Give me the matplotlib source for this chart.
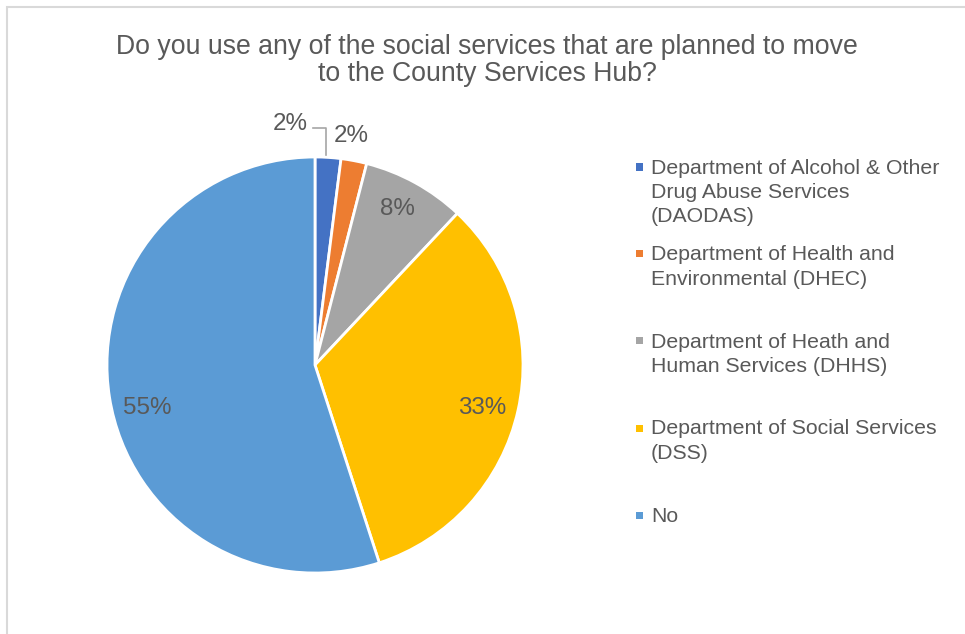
import matplotlib
matplotlib.use("Agg")
import matplotlib.pyplot as plt
from matplotlib.patches import Rectangle

plt.rcParams['font.family'] = ['Liberation Sans', 'DejaVu Sans']

title = "Do you use any of the social services that are planned to move\nto the County Services Hub?"
categories = [
    "Department of Alcohol & Other\nDrug Abuse Services\n(DAODAS)",
    "Department of Health and\nEnvironmental (DHEC)",
    "Department of Heath and\nHuman Services (DHHS)",
    "Department of Social Services\n(DSS)",
    "No",
]
values = [2, 2, 8, 33, 55]
colors = ["#4472C4", "#ED7D31", "#A5A5A5", "#FFC000", "#5B9BD5"]
text_color = "#595959"

W, H = 965, 634
fig = plt.figure(figsize=(W / 100, H / 100), dpi=100)
fig.patch.set_facecolor("white")

# chart frame
fig.patches.append(Rectangle((6.5 / W, -0.1), 1.2, 1 - 6.5 / H + 0.1,
                             transform=fig.transFigure, fill=False,
                             edgecolor="#D9D9D9", linewidth=1.5))

fig.text(487 / W, 1 - 60.5 / H, title, ha="center", va="center",
         fontsize=19.2, color=text_color, linespacing=1.08)

# pie axes
cx, cy, r = 315, 365, 208
ax = fig.add_axes([(cx - r) / W, 1 - (cy + r) / H, 2 * r / W, 2 * r / H])
wedges, _ = ax.pie(values, colors=colors, startangle=90, counterclock=False,
                   radius=1, wedgeprops=dict(edgecolor="white", linewidth=2))
ax.set_xlim(-1, 1)
ax.set_ylim(-1, 1)
ax.set_aspect("equal")
ax.axis("off")

# data labels (pixel positions of label centers)
label_pos = [(290, 123.5), (351, 136.5), (397, 209.5), (482, 407.5), (147, 407.5)]
for v, (lx, ly) in zip(values, label_pos):
    fig.text(lx / W, 1 - ly / H, f"{v}%", ha="center", va="center",
             fontsize=17.4, color=text_color)

# leader line for the first small slice
fig.add_artist(plt.Line2D([313 / W, 326 / W, 326 / W],
                          [1 - 128 / H, 1 - 128 / H, 1 - 155 / H],
                          color="#A6A6A6", linewidth=1.2))

# legend
leg_y = [167, 254, 341, 428, 515]
for name, col, y in zip(categories, colors, leg_y):
    fig.add_artist(Rectangle((636 / W, 1 - (y + 3.5) / H), 7 / W, 7 / H,
                             transform=fig.transFigure, facecolor=col,
                             edgecolor="none"))
    fig.text(651 / W, 1 - (y - 8.5) / H, name, ha="left", va="top",
             fontsize=15.3, color=text_color, linespacing=1.36)

fig.savefig("out.png", dpi=100)
